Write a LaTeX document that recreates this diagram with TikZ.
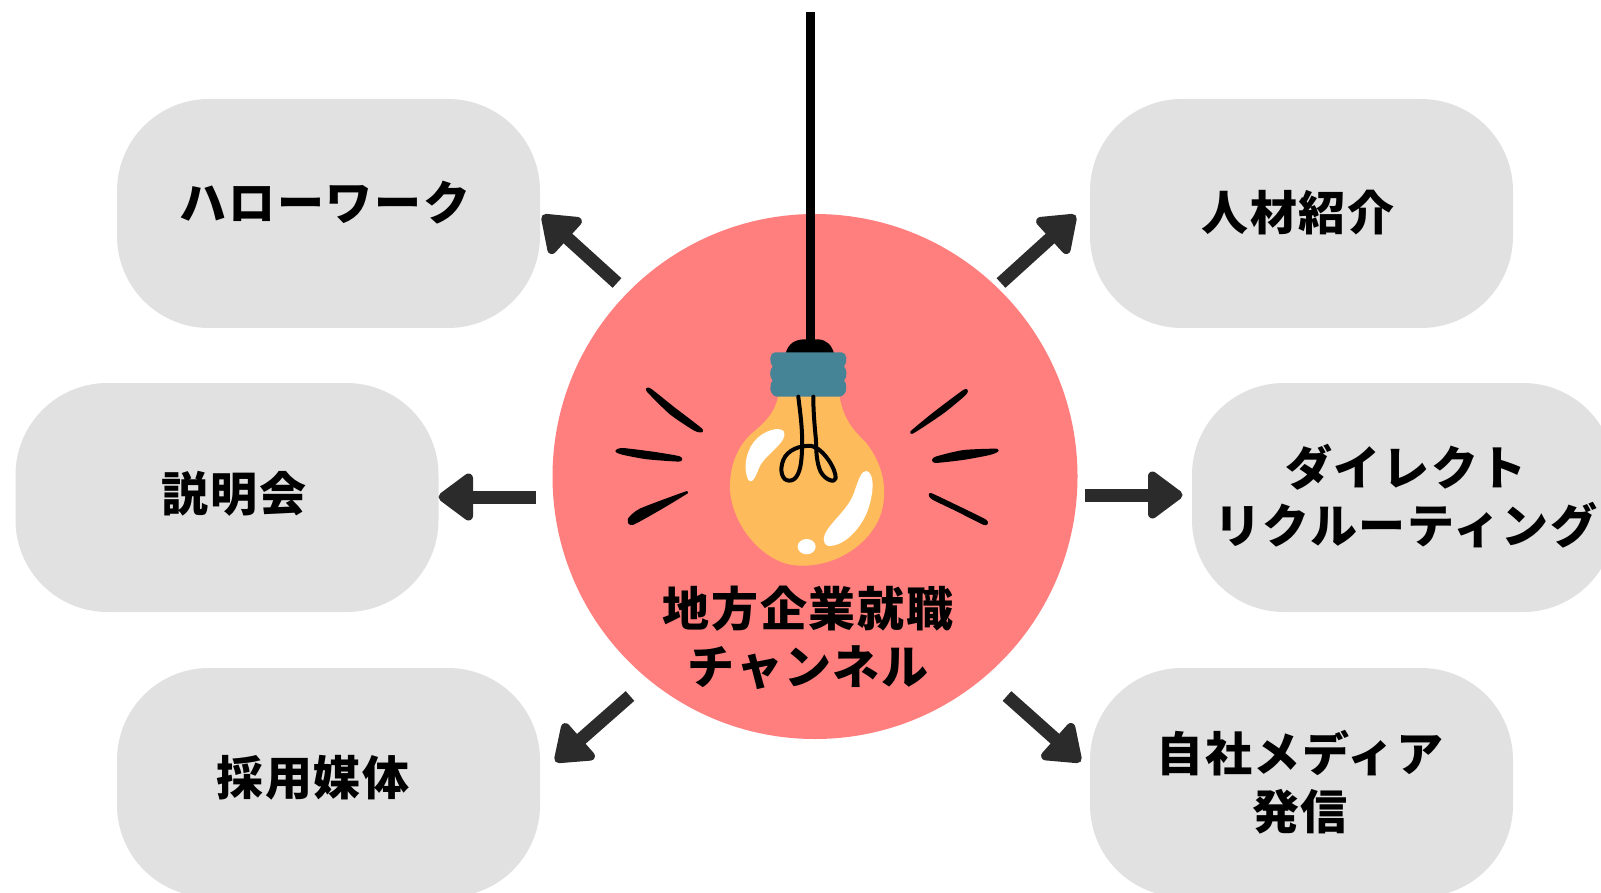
\documentclass[tikz,border=0pt]{standalone}
\usepackage{fontspec}
\usetikzlibrary{calc}
\newfontfamily\cjk[LetterSpace=3.5]{Noto Sans CJK JP}
\definecolor{hubred}{HTML}{FF7F7F}
\definecolor{boxgrey}{HTML}{E1E1E1}
\definecolor{arrowdark}{HTML}{2B2B2B}
\definecolor{bulbgold}{HTML}{FDBB5B}
\definecolor{socketteal}{HTML}{458497}
\tikzset{
  pill/.style={fill=boxgrey,rectangle,rounded corners=92pt,minimum width=423pt,minimum height=229pt,inner sep=0pt},
  lbl/.style={font=\cjk\bfseries\fontsize{47}{58}\selectfont,align=center,text=black,inner sep=0pt},
  conn/.style={draw=arrowdark,line width=13pt},
  conhead/.style={draw=arrowdark,fill=arrowdark,line width=9pt,line join=round},
  ray/.style={fill=black,draw=black,line width=2.5pt,line join=round},
}
\begin{document}
\begin{tikzpicture}[x=1pt,y=-1pt]
\path[use as bounding box,clip] (0,0) rectangle (1601,893);
\fill[white] (0,0) rectangle (1601,893);
% boxes
\node[pill] (b1) at (328.5,213.5) {};
\node[pill] (b2) at (1301.5,213.5) {};
\node[pill] (b3) at (227,497.5) {};
\node[pill] (b4) at (1403.5,497.5) {};
\node[pill] (b5) at (328.5,782.5) {};
\node[pill] (b6) at (1301.5,782.5) {};
% hub
\node[circle,fill=hubred,minimum size=525pt,inner sep=0pt] (hub) at (815,476.5) {};
% arrows
\coordinate (s1) at (617,283); \coordinate (t1) at (542,215);
\coordinate (s2) at (1001,283); \coordinate (t2) at (1076,215);
\coordinate (s3) at (536,497); \coordinate (t3) at (438,497);
\coordinate (s4) at (1085,495); \coordinate (t4) at (1183,495);
\coordinate (s5) at (630,696); \coordinate (t5) at (555,762);
\coordinate (s6) at (1007,696); \coordinate (t6) at (1081,762);
\foreach \i in {1,...,6}{
  \coordinate (bk) at ($(t\i)!30.5pt!(s\i)$);
  \draw[conn] (s\i) -- (bk);
  \draw[conhead] ($(t\i)!5pt!(s\i)$) -- ($(bk)!19pt!90:(s\i)$) -- ($(bk)!19pt!-90:(s\i)$) -- cycle;
}
% bulb, in crop coordinates
\begin{scope}[shift={(580,320)},x=0.3333pt,y=-0.3333pt]
  \fill[black] (677,-924) rectangle (705,70);
  \fill[black] (617,100) .. controls (625,70) and (645,60) .. (670,58) -- (715,58) .. controls (740,60) and (755,75) .. (762,100) -- cycle;
  \fill[bulbgold] (595,225) .. controls (585,285) and (545,315) .. (510,345)
    .. controls (465,390) and (448,450) .. (450,510)
    .. controls (455,590) and (510,680) .. (590,720)
    .. controls (625,738) and (665,740) .. (700,735)
    .. controls (790,725) and (880,660) .. (905,575)
    .. controls (925,500) and (905,430) .. (860,370)
    .. controls (820,330) and (790,300) .. (778,225) -- cycle;
  \fill[socketteal] (585,97) -- (785,97) .. controls (802,97) and (803,128) .. (792,140)
    .. controls (802,148) and (802,172) .. (792,182)
    .. controls (803,192) and (803,225) .. (780,230)
    -- (590,230) .. controls (567,225) and (567,192) .. (578,182)
    .. controls (568,172) and (568,148) .. (578,140)
    .. controls (567,128) and (568,97) .. (585,97) -- cycle;
  \draw[black,line width=4pt,line cap=round,line join=round]
    (655,230) .. controls (662,290) and (670,340) .. (665,410)
    .. controls (662,455) and (650,482) .. (628,482)
    .. controls (605,482) and (598,450) .. (610,420)
    .. controls (622,390) and (660,375) .. (695,378)
    .. controls (730,385) and (770,450) .. (767,475)
    .. controls (765,490) and (735,480) .. (722,455)
    .. controls (710,430) and (708,390) .. (708,360)
    .. controls (703,310) and (700,270) .. (700,230);
  \fill[white] (612,335) .. controls (600,318) and (550,330) .. (522,365)
    .. controls (495,400) and (490,450) .. (505,480)
    .. controls (520,495) and (530,460) .. (540,438)
    .. controls (560,400) and (625,365) .. (612,335) -- cycle;
  \fill[white] (860,453) .. controls (885,460) and (882,520) .. (862,575)
    .. controls (840,630) and (790,680) .. (745,678)
    .. controls (725,670) and (728,650) .. (745,625)
    .. controls (770,590) and (810,560) .. (825,510)
    .. controls (835,480) and (845,450) .. (860,453) -- cycle;
  \fill[white] (680,680) ellipse [x radius=27,y radius=23];
  \path[ray] plot[smooth cycle,tension=0.4] coordinates {(204,213) (212,210) (280,264) (364,329) (345,329) (272,280)};
  \path[ray] plot[smooth cycle,tension=0.4] coordinates {(110,393) (130,388) (220,399) (296,412) (296,421) (200,414) (130,401)};
  \path[ray] plot[smooth cycle,tension=0.4] coordinates {(147,598) (182,569) (312,520) (313,522) (240,566) (158,611)};
  \path[ray] plot[smooth cycle,tension=0.4] coordinates {(1152,213) (1155,222) (1090,276) (1005,333) (997,334) (1060,282)};
  \path[ray] plot[smooth cycle,tension=0.4] coordinates {(1067,414) (1150,394) (1250,390) (1230,401) (1150,416) (1067,425)};
  \path[ray] plot[smooth cycle,tension=0.4] coordinates {(1050,524) (1060,526) (1150,569) (1216,602) (1212,611) (1130,570) (1060,536)};
\end{scope}
% labels
\node[lbl] (l1) at (325,203) {ハローワーク};
\node[lbl] (l2) at (1298,212.5) {人材紹介};
\node[lbl] (l3) at (234,494) {説明会};
\node[lbl] (l4) at (1406,496) {ダイレクト\\リクルーティング};
\node[lbl] (l5) at (313,778) {採用媒体};
\node[lbl] (l6) at (1300,782) {自社メディア\\発信};
\node[lbl] (l7) at (808,638) {地方企業就職\\チャンネル};
\end{tikzpicture}
\end{document}
